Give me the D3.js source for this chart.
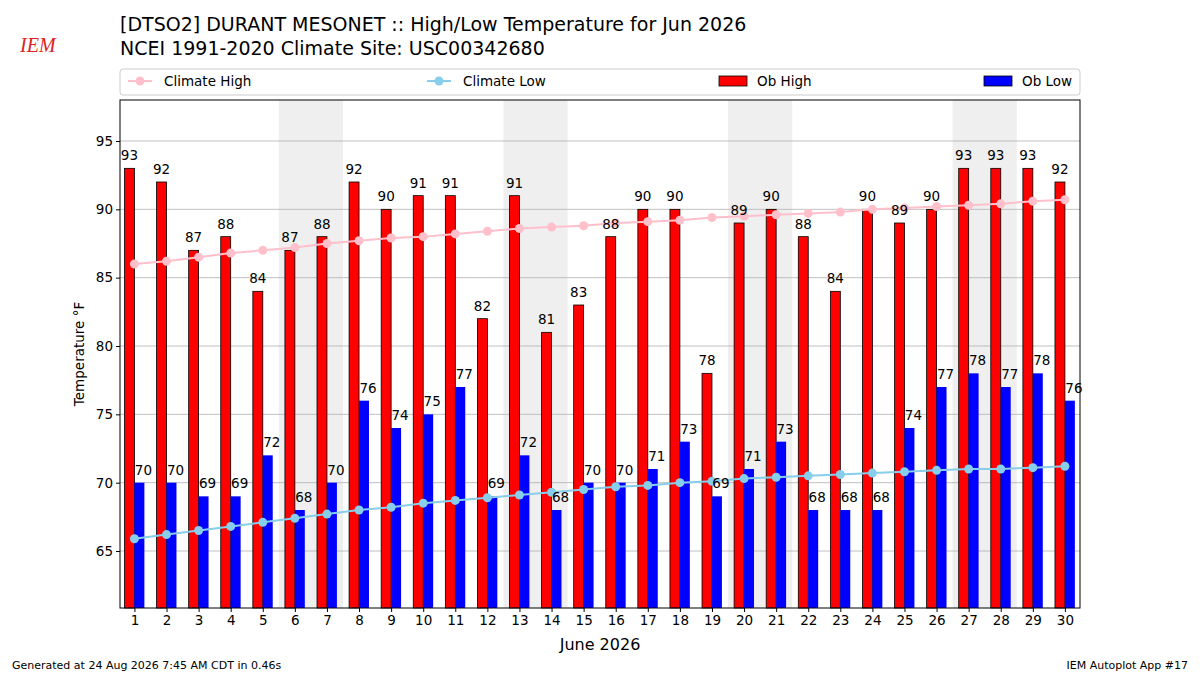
<!DOCTYPE html>
<html><head><meta charset="utf-8">
<script src="https://cdn.jsdelivr.net/npm/d3@7"></script>
<style>body{margin:0;background:#fff;font-family:"DejaVu Sans",sans-serif}</style>
</head><body><svg id="chart" width="1200" height="675"></svg>
<script>
// values
var days = d3.range(1, 31);
var obHigh = [93,92,87,88,84,87,88,92,90,91,91,82,91,81,83,88,90,90,78,89,90,88,84,90,89,90,93,93,93,92];
var obLow = [70,70,69,69,72,68,70,76,74,75,77,69,72,68,70,70,71,73,69,71,73,68,68,68,74,77,78,77,78,76];
var climHigh = [86.0,86.2,86.5,86.8,87.0,87.2,87.5,87.7,87.9,88.0,88.2,88.4,88.6,88.7,88.8,89.0,89.1,89.2,89.4,89.5,89.6,89.7,89.8,90.0,90.1,90.2,90.3,90.4,90.6,90.7];
var climLow = [65.9,66.2,66.5,66.8,67.1,67.4,67.7,68.0,68.2,68.5,68.7,68.9,69.1,69.3,69.5,69.7,69.8,70.0,70.1,70.3,70.4,70.5,70.6,70.7,70.8,70.9,71.0,71.0,71.1,71.2];
var weekends = [6, 13, 20, 27];
var yTicks = [65,70,75,80,85,90,95];

var svg = d3.select("#chart");
var L = 120, R = 1080, T = 100, B = 608;
var x = d3.scaleLinear().domain([0.55, 30.47]).range([L, R]);
var y = d3.scaleLinear().domain([60.83, 98]).range([B, T]);
var bw = 0.31;

//weekend shading
svg.selectAll(".wk").data(weekends).enter().append("rect")
    .attr("x", d => x(d - 0.5)).attr("width", d => x(d + 1.5) - x(d - 0.5))
    .attr("y", T).attr("height", B - T).attr("fill", "#efefef");

//grid
svg.selectAll(".gr").data(yTicks).enter().append("line")
    .attr("x1", L).attr("x2", R).attr("y1", d => y(d)).attr("y2", d => y(d))
    .attr("stroke", "#b0b0b0").attr("stroke-width", 0.8);

//bars
svg.selectAll(".hi").data(days).enter().append("rect")
    .attr("x", d => x(d - bw)).attr("width", x(bw) - x(0))
    .attr("y", (d, i) => y(obHigh[i])).attr("height", (d, i) => B - y(obHigh[i]))
    .attr("fill", "red").attr("stroke", "#000").attr("stroke-width", 0.8);
svg.selectAll(".lo").data(days).enter().append("rect")
    .attr("x", d => x(d)).attr("width", x(bw) - x(0))
    .attr("y", (d, i) => y(obLow[i])).attr("height", (d, i) => B - y(obLow[i]))
    .attr("fill", "blue");

//climate lines
function drawLine(vals, color) {
    var line = d3.line().x((d, i) => x(days[i])).y(d => y(d));
    svg.append("path").datum(vals).attr("d", line).attr("fill", "none")
        .attr("stroke", color).attr("stroke-width", 2);
    svg.selectAll(null).data(vals).enter().append("circle")
        .attr("cx", (d, i) => x(days[i])).attr("cy", d => y(d)).attr("r", 4.5).attr("fill", color);
}
drawLine(climHigh, "pink");
drawLine(climLow, "skyblue");

//labels
svg.selectAll(".hl").data(days).enter().append("text")
    .attr("x", d => x(d - bw / 2)).attr("y", (d, i) => y(obHigh[i]) - 8)
    .attr("text-anchor", "middle").attr("font-size", 13.5).text((d, i) => obHigh[i]);
svg.selectAll(".ll").data(days).enter().append("text")
    .attr("x", d => x(d + bw / 2) + 4).attr("y", (d, i) => y(obLow[i]) - 8)
    .attr("text-anchor", "middle").attr("font-size", 13.5).text((d, i) => obLow[i]);

//frame + axes
svg.append("rect").attr("x", L).attr("y", T).attr("width", R - L).attr("height", B - T)
    .attr("fill", "none").attr("stroke", "#000");
svg.append("g").attr("transform", `translate(0,${B})`)
    .call(d3.axisBottom(x).tickValues(days).tickSize(4).tickFormat(d3.format("d")))
    .call(g => g.select(".domain").remove())
    .selectAll("text").attr("font-size", 13.5).attr("font-family", "DejaVu Sans");
svg.append("g").attr("transform", `translate(${L},0)`)
    .call(d3.axisLeft(y).tickValues(yTicks).tickSize(4))
    .call(g => g.select(".domain").remove())
    .selectAll("text").attr("font-size", 13.5).attr("font-family", "DejaVu Sans");
svg.append("text").attr("transform", `translate(84,${(T + B) / 2}) rotate(-90)`)
    .attr("text-anchor", "middle").attr("font-size", 13.5).text("Temperature °F");
svg.append("text").attr("x", (L + R) / 2).attr("y", 650).attr("text-anchor", "middle")
    .attr("font-size", 16).text("June 2026");

//titles
svg.append("text").attr("x", 120).attr("y", 31).attr("font-size", 19)
    .text("[DTSO2] DURANT MESONET :: High/Low Temperature for Jun 2026");
svg.append("text").attr("x", 120).attr("y", 55).attr("font-size", 19)
    .text("NCEI 1991-2020 Climate Site: USC00342680");
svg.append("text").attr("x", 20).attr("y", 52).attr("font-size", 20).attr("font-style", "italic")
    .attr("font-family", "Liberation Serif").attr("fill", "#d22").text("IEM");

//legend
var lg = svg.append("g");
lg.append("rect").attr("x", 120).attr("y", 69).attr("width", 960).attr("height", 26).attr("rx", 3)
    .attr("fill", "#fff").attr("stroke", "#ccc");
[["Climate High", "pink", 128], ["Climate Low", "skyblue", 427]].forEach(function (e) {
    lg.append("line").attr("x1", e[2]).attr("x2", e[2] + 24).attr("y1", 81).attr("y2", 81)
        .attr("stroke", e[1]).attr("stroke-width", 2);
    lg.append("circle").attr("cx", e[2] + 12).attr("cy", 81).attr("r", 4.5).attr("fill", e[1]);
    lg.append("text").attr("x", e[2] + 36).attr("y", 86).attr("font-size", 13.5).text(e[0]);
});
[["Ob High", "red", 719], ["Ob Low", "blue", 984]].forEach(function (e) {
    lg.append("rect").attr("x", e[2]).attr("y", 76).attr("width", 28).attr("height", 10)
        .attr("fill", e[1]).attr("stroke", "#000").attr("stroke-width", 0.8);
    lg.append("text").attr("x", e[2] + 38).attr("y", 86).attr("font-size", 13.5).text(e[0]);
});

//footer
svg.append("text").attr("x", 12).attr("y", 669).attr("font-size", 11)
    .text("Generated at 24 Aug 2026 7:45 AM CDT in 0.46s");
svg.append("text").attr("x", 1188).attr("y", 669).attr("font-size", 11).attr("text-anchor", "end")
    .text("IEM Autoplot App #17");
</script></body></html>
